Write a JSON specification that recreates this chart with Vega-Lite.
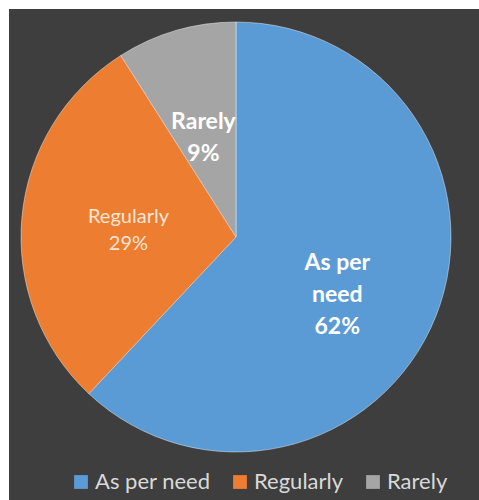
{
  "$schema": "https://vega.github.io/schema/vega-lite/v6.json",
  "autosize": {"type": "none"},
  "padding": {"left": 9, "top": 9, "right": 0, "bottom": 0},
  "width": 470,
  "height": 491,
  "background": "#ffffff",
  "view": {"fill": "#3e3e3e", "stroke": null},
  "config": {"font": "Lato"},
  "data": {
    "values": [
      {"category": "As per need", "value": 62},
      {"category": "Regularly", "value": 29},
      {"category": "Rarely", "value": 9}
    ]
  },
  "transform": [
    {"calculate": "indexof(['As per need','Regularly','Rarely'], datum.category)", "as": "order"},
    {"stack": "value", "groupby": [], "sort": [{"field": "order", "order": "ascending"}], "as": ["v0", "v1"]},
    {"calculate": "(datum.v0 + datum.v1) / 2", "as": "mid"},
    {"calculate": "datum.category == 'As per need' ? ['As per', 'need', datum.value + '%'] : [datum.category, datum.value + '%']", "as": "label"}
  ],
  "layer": [
    {
      "mark": {"type": "arc", "outerRadius": 215, "stroke": "#ffffff", "strokeWidth": 0.6, "strokeOpacity": 0.7, "xOffset": -8, "yOffset": -17.5},
      "encoding": {
        "theta": {"field": "v0", "type": "quantitative", "scale": {"domain": [0, 100]}},
        "theta2": {"field": "v1"},
        "color": {
          "field": "category",
          "type": "nominal",
          "sort": ["As per need", "Regularly", "Rarely"],
          "scale": {"domain": ["As per need", "Regularly", "Rarely"], "range": ["#5b9bd5", "#ed7d31", "#a5a5a5"]},
          "legend": {
            "orient": "none",
            "legendX": 61,
            "legendY": 462,
            "direction": "horizontal",
            "title": null,
            "symbolType": "square",
            "symbolSize": 190,
            "symbolStrokeWidth": 0,
            "labelFont": "Lato",
            "labelFontSize": 22,
            "labelColor": "#d9d9d9",
            "labelOffset": 3,
            "columnPadding": 18
          }
        }
      }
    },
    {
      "transform": [{"filter": "datum.category == 'As per need'"}],
      "mark": {"type": "text", "radius": 110, "xOffset": -8, "yOffset": -17.5, "dx": -1, "dy": -14, "fontWeight": "bold", "fontSize": 23, "lineHeight": 32, "color": "#ffffff", "align": "center", "baseline": "middle"},
      "encoding": {
        "theta": {"field": "mid", "type": "quantitative", "scale": {"domain": [0, 100]}},
        "text": {"field": "label"}
      }
    },
    {
      "transform": [{"filter": "datum.category == 'Regularly'"}],
      "mark": {"type": "text", "radius": 108, "xOffset": -8, "yOffset": -17.5, "dy": -10, "fontSize": 20, "lineHeight": 27, "color": "#fce6d4", "align": "center", "baseline": "middle"},
      "encoding": {
        "theta": {"field": "mid", "type": "quantitative", "scale": {"domain": [0, 100]}},
        "text": {"field": "label"}
      }
    },
    {
      "transform": [{"filter": "datum.category == 'Rarely'"}],
      "mark": {"type": "text", "radius": 106, "xOffset": -8, "yOffset": -17.5, "dx": -3, "dy": -13, "fontWeight": "bold", "fontSize": 23, "lineHeight": 32, "color": "#ffffff", "align": "center", "baseline": "middle"},
      "encoding": {
        "theta": {"field": "mid", "type": "quantitative", "scale": {"domain": [0, 100]}},
        "text": {"field": "label"}
      }
    }
  ]
}
